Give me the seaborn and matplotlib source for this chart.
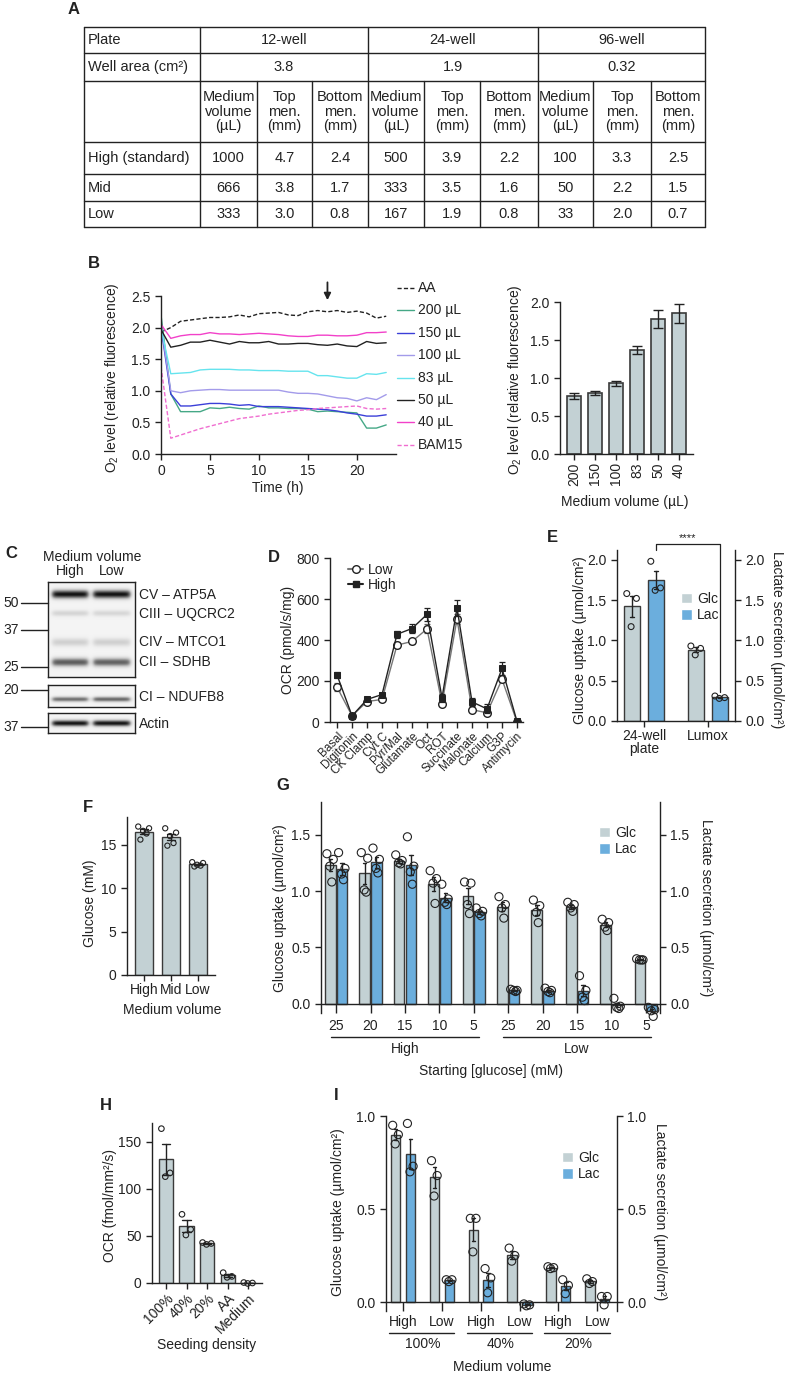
import numpy as np
import pandas as pd
import matplotlib
matplotlib.use("Agg")
import matplotlib.pyplot as plt
import matplotlib.transforms as mtransforms
from matplotlib.lines import Line2D
from matplotlib.patches import Patch
import seaborn as sns

# ── Data ───────────────────────────────────────────────────────────────────────

# A: plate table
plates = ["12-well", "24-well", "96-well"]
well_area = ["3.8", "1.9", "0.32"]
sub_headers = ["Medium\nvolume\n(µL)", "Top\nmen.\n(mm)", "Bottom\nmen.\n(mm)"]
row_names = ["High (standard)", "Mid", "Low"]
row_high = ["1000", "4.7", "2.4", "500", "3.9", "2.2", "100", "3.3", "2.5"]
row_mid = ["666", "3.8", "1.7", "333", "3.5", "1.6", "50", "2.2", "1.5"]
row_low = ["333", "3.0", "0.8", "167", "1.9", "0.8", "33", "2.0", "0.7"]

# B (left): O2 traces, hourly
time_h = list(range(24))
b_conditions = ["AA", "200 µL", "150 µL", "100 µL", "83 µL", "50 µL", "40 µL", "BAM15"]
o2_aa = [1.93, 2.00, 2.10, 2.12, 2.14, 2.16, 2.16, 2.17, 2.20, 2.17, 2.22, 2.23,
         2.24, 2.20, 2.19, 2.25, 2.27, 2.25, 2.27, 2.24, 2.26, 2.23, 2.15, 2.18]
o2_200 = [2.20, 0.95, 0.67, 0.67, 0.67, 0.73, 0.72, 0.74, 0.72, 0.71, 0.76, 0.73,
          0.73, 0.72, 0.72, 0.71, 0.67, 0.68, 0.67, 0.66, 0.65, 0.41, 0.41, 0.46]
o2_150 = [2.00, 0.95, 0.76, 0.76, 0.78, 0.80, 0.80, 0.79, 0.77, 0.78, 0.75, 0.75,
          0.75, 0.74, 0.73, 0.72, 0.71, 0.70, 0.68, 0.65, 0.63, 0.60, 0.60, 0.62]
o2_100 = [2.05, 1.00, 0.97, 1.00, 1.01, 1.02, 1.02, 1.01, 1.01, 1.01, 1.01, 1.01,
          1.01, 0.98, 0.96, 0.96, 0.95, 0.92, 0.89, 0.88, 0.84, 0.89, 0.86, 0.94]
o2_83 = [2.00, 1.27, 1.28, 1.29, 1.33, 1.34, 1.34, 1.34, 1.33, 1.33, 1.32, 1.32,
         1.32, 1.31, 1.31, 1.31, 1.24, 1.24, 1.22, 1.20, 1.20, 1.27, 1.26, 1.29]
o2_50 = [1.97, 1.69, 1.72, 1.77, 1.77, 1.80, 1.77, 1.74, 1.78, 1.76, 1.76, 1.78,
         1.74, 1.74, 1.75, 1.75, 1.73, 1.72, 1.74, 1.71, 1.70, 1.78, 1.75, 1.76]
o2_40 = [2.05, 1.83, 1.87, 1.89, 1.89, 1.92, 1.90, 1.90, 1.89, 1.90, 1.91, 1.90,
         1.89, 1.87, 1.86, 1.86, 1.88, 1.88, 1.87, 1.87, 1.88, 1.92, 1.92, 1.93]
o2_bam15 = [1.38, 0.25, 0.30, 0.35, 0.40, 0.44, 0.48, 0.52, 0.56, 0.58, 0.60, 0.63,
            0.65, 0.67, 0.69, 0.70, 0.72, 0.73, 0.74, 0.75, 0.76, 0.72, 0.71, 0.72]
arrow_time = 17

# B (right): O2 level at medium volume
vol_labels = ["200", "150", "100", "83", "50", "40"]
o2_mean = [0.76, 0.80, 0.93, 1.37, 1.78, 1.85]
o2_err = [0.04, 0.03, 0.03, 0.05, 0.12, 0.13]

# C: western blot
blot_bands = ["CV – ATP5A", "CIII – UQCRC2", "CIV – MTCO1", "CII – SDHB", "CI – NDUFB8", "Actin"]
blot_high = [0.85, 0.18, 0.20, 0.62, 0.55, 0.85]
blot_low = [0.85, 0.17, 0.20, 0.60, 0.58, 0.85]
marker_kda = ["50", "37", "25", "20", "37"]

# D: OCR steps
ocr_steps = ["Basal", "Digitonin", "CK Clamp", "Cyt C", "Pyr/Mal", "Glutamate", "Oct",
             "ROT", "Succinate", "Malonate", "Calcium", "G3P", "Antimycin"]
ocr_low = [170, 30, 100, 110, 375, 393, 454, 90, 502, 60, 45, 208, 0]
ocr_low_err = [20, 5, 8, 8, 15, 12, 22, 10, 25, 8, 8, 15, 2]
ocr_high = [229, 30, 110, 134, 428, 456, 525, 118, 556, 98, 64, 261, 3]
ocr_high_err = [15, 5, 8, 8, 18, 20, 32, 20, 37, 20, 22, 30, 2]

# E: 24-well vs Lumox
e_sites = ["24-well\nplate", "Lumox"]
e_glc = [[1.58, 1.52, 1.17], [0.93, 0.90, 0.82]]
e_lac = [[1.98, 1.65, 1.62], [0.31, 0.29, 0.28]]

# F: glucose after culture
f_volume = ["High", "Mid", "Low"]
f_glucose = [[17.1, 16.9, 16.6, 16.3, 15.6], [16.9, 16.4, 16.0, 15.2, 14.9],
             [13.0, 12.9, 12.7, 12.6, 12.5]]

# G: starting glucose x medium volume
g_levels = ["High", "Low"]
g_conc = ["25", "20", "15", "10", "5"]
g_glc = [[1.33, 1.28, 1.22, 1.08], [1.34, 1.29, 1.01, 0.99], [1.32, 1.27, 1.25, 1.24],
         [1.18, 1.11, 1.07, 0.89], [1.08, 1.07, 0.88, 0.80],
         [0.95, 0.88, 0.85, 0.76], [0.92, 0.87, 0.81, 0.72], [0.90, 0.88, 0.85, 0.82],
         [0.75, 0.72, 0.68, 0.65], [0.40, 0.39, 0.39, 0.39]]
g_lac = [[1.34, 1.20, 1.15, 1.10], [1.38, 1.28, 1.20, 1.16], [1.48, 1.22, 1.17, 1.06],
         [1.06, 0.93, 0.90, 0.88], [0.85, 0.82, 0.80, 0.78],
         [0.13, 0.12, 0.12, 0.11], [0.14, 0.12, 0.11, 0.10], [0.25, 0.12, 0.06, 0.03],
         [0.05, -0.02, -0.03, -0.04], [-0.03, -0.05, -0.06, -0.11]]

# H: OCR by seeding density
h_density = ["100%", "40%", "20%", "AA", "Medium"]
h_ocr = [[164, 117, 113], [73, 57, 51], [43, 42, 41], [11, 7, 6], [0.5, 0.0, -0.5]]

# I: seeding density x medium volume
i_density = ["100%", "40%", "20%"]
i_volume = ["High", "Low"]
i_glc = [[0.95, 0.90, 0.85], [0.76, 0.68, 0.57], [0.45, 0.45, 0.27],
         [0.29, 0.25, 0.22], [0.19, 0.185, 0.18], [0.125, 0.11, 0.10]]
i_lac = [[0.96, 0.73, 0.70], [0.12, 0.12, 0.11], [0.18, 0.13, 0.05],
         [-0.01, -0.015, -0.02], [0.12, 0.09, 0.045], [0.03, 0.03, -0.015]]

# ── Style ──────────────────────────────────────────────────────────────────────

INK = "#222222"
GLC = "#C3D1D4"
LAC = "#6BAEDD"
EDGE = "#3a3a3a"
B_COLORS = {"AA": INK, "200 µL": "#45A886", "150 µL": "#3B3FD8", "100 µL": "#A39BEA",
            "83 µL": "#66E4EE", "50 µL": INK, "40 µL": "#F241C9", "BAM15": "#F06DD0"}
B_DASHES = {c: "" for c in b_conditions}
B_DASHES["AA"] = (3, 1.6)
B_DASHES["BAM15"] = (3, 1.6)
JIT = np.array([-0.32, 0.28, -0.05, 0.14, -0.2])

sns.set_style("ticks")
plt.rcParams.update({
    "font.size": 10,
    "axes.labelsize": 10,
    "xtick.labelsize": 10,
    "ytick.labelsize": 10,
    "axes.linewidth": 1.0,
    "axes.edgecolor": INK,
    "axes.labelcolor": INK,
    "text.color": INK,
    "xtick.color": INK,
    "ytick.color": INK,
    "xtick.major.size": 4,
    "ytick.major.size": 4,
    "xtick.major.width": 1,
    "ytick.major.width": 1,
    "mathtext.fontset": "custom",
    "mathtext.rm": "Liberation Sans",
    "mathtext.it": "Liberation Sans:italic",
})
plt.rcParams["font.family"] = ["Liberation Sans", "DejaVu Sans"]

W, H = 785, 1374
fig = plt.figure(figsize=(W / 100, H / 100), dpi=100)

# pixel overlay for table, labels and annotations
ov = fig.add_axes([0, 0, 1, 1])
ov.set_xlim(0, W)
ov.set_ylim(H, 0)
ov.axis("off")
ov.set_zorder(10)


def px_axes(l, t, r, b):
    ax = fig.add_axes([l / W, 1 - b / H, (r - l) / W, (b - t) / H])
    ax.px = (l, t, r, b)
    ax.patch.set_alpha(0)
    ax.spines[["top", "right"]].set_visible(False)
    return ax


def twin(ax):
    axr = ax.twinx()
    axr.px = ax.px
    axr.set_ylim(ax.get_ylim())
    axr.spines[["top", "left", "bottom"]].set_visible(False)
    axr.spines["right"].set_visible(True)
    return axr


def ylab(ax, text, xc, yc, rot=90):
    l, t, r, b = ax.px
    ax.set_ylabel(text, rotation=rot, va="center", ha="center")
    ax.yaxis.set_label_coords((xc - l) / (r - l), (b - yc) / (b - t))


def xlab(ax, text, xc, yc):
    l, t, r, b = ax.px
    ax.set_xlabel(text, va="center", ha="center")
    ax.xaxis.set_label_coords((xc - l) / (r - l), (b - yc) / (b - t))


def single_bars(ax, cats, pts, width, capsize, s):
    df = pd.DataFrame({"cat": np.repeat(cats, [len(p) for p in pts]),
                       "val": np.concatenate(pts)})
    sns.barplot(data=df, x="cat", y="val", order=cats, color=GLC, saturation=1,
                width=width, errorbar="se", capsize=capsize,
                err_kws={"color": INK, "linewidth": 1}, edgecolor=EDGE, linewidth=1, ax=ax)
    for i, p in enumerate(pts):
        ax.scatter(i + JIT[:len(p)] * width, p, s=s, facecolor="none", edgecolor=INK,
                   linewidth=0.8, zorder=4, clip_on=False)


def paired_bars(ax, cats, glc, lac, width, gap, capsize, s):
    rows = []
    for c, g, l in zip(cats, glc, lac):
        rows += [(c, "Glc", v) for v in g] + [(c, "Lac", v) for v in l]
    df = pd.DataFrame(rows, columns=["cat", "met", "val"])
    sns.barplot(data=df, x="cat", y="val", hue="met", order=cats, hue_order=["Glc", "Lac"],
                palette=[GLC, LAC], saturation=1, width=width, gap=gap, errorbar="se",
                capsize=capsize, err_kws={"color": INK, "linewidth": 1},
                edgecolor=EDGE, linewidth=1, legend=False, ax=ax)
    bw = width / 2 * (1 - gap)
    for i, (g, l) in enumerate(zip(glc, lac)):
        for pts, dx in ((g, -width / 4), (l, width / 4)):
            ax.scatter(i + dx + JIT[:len(pts)] * bw, pts, s=s, facecolor="none",
                       edgecolor=INK, linewidth=0.8, zorder=4, clip_on=False)


def met_legend(ax, x, y):
    l, t, r, b = ax.px
    ax.legend(handles=[Patch(facecolor=GLC), Patch(facecolor=LAC)], labels=["Glc", "Lac"],
              loc="upper left", bbox_to_anchor=((x - l) / (r - l), (b - y) / (b - t)),
              frameon=False, borderpad=0, handlelength=0.8, handleheight=0.8,
              handletextpad=0.35, labelspacing=0.15)


# panel letters
for lab, (x, y) in {"A": (68, 9), "B": (88, 263), "C": (5, 553), "D": (268, 558),
                    "E": (547, 538), "F": (83, 808), "G": (276, 786), "H": (100, 1105),
                    "I": (334, 1095)}.items():
    ov.text(x, y, lab, fontsize=12, fontweight="bold", ha="left", va="center")

# ── A: table ───────────────────────────────────────────────────────────────────

col_x = [84, 200, 257, 312, 368, 424, 480, 538, 593, 651, 705]
row_y = [27, 53, 81, 142, 174, 201, 227]
for y in row_y:
    ov.plot([col_x[0], col_x[-1]], [y, y], color=INK, lw=1)
for j, x in enumerate(col_x):
    top = row_y[0] if j in (0, 1, 4, 7, 10) else row_y[2]
    ov.plot([x, x], [top, row_y[-1]], color=INK, lw=1)

TFS = 10.5


def cell(x0, x1, y0, y1, s, left=False):
    if left:
        ov.text(x0 + 4, (y0 + y1) / 2, s, ha="left", va="center", fontsize=TFS)
    else:
        ov.text((x0 + x1) / 2, (y0 + y1) / 2, s, ha="center", va="center",
                fontsize=TFS, linespacing=1.05)


cell(col_x[0], col_x[1], row_y[0], row_y[1], "Plate", left=True)
cell(col_x[0], col_x[1], row_y[1], row_y[2], "Well area (cm²)", left=True)
for k in range(3):
    cell(col_x[1 + 3 * k], col_x[4 + 3 * k], row_y[0], row_y[1], plates[k])
    cell(col_x[1 + 3 * k], col_x[4 + 3 * k], row_y[1], row_y[2], well_area[k])
for k in range(9):
    cell(col_x[1 + k], col_x[2 + k], row_y[2], row_y[3], sub_headers[k % 3])
for r, (name, vals) in enumerate(zip(row_names, [row_high, row_mid, row_low])):
    cell(col_x[0], col_x[1], row_y[3 + r], row_y[4 + r], name, left=True)
    for k, v in enumerate(vals):
        cell(col_x[1 + k], col_x[2 + k], row_y[3 + r], row_y[4 + r], v)

# ── B: O2 traces and bars ──────────────────────────────────────────────────────

axb = px_axes(161, 296, 396, 454)
series = [o2_aa, o2_200, o2_150, o2_100, o2_83, o2_50, o2_40, o2_bam15]
df_b = pd.DataFrame({"time": time_h * len(series),
                     "o2": np.concatenate(series),
                     "cond": np.repeat(b_conditions, len(time_h))})
sns.lineplot(data=df_b, x="time", y="o2", hue="cond", style="cond", palette=B_COLORS,
             dashes=B_DASHES, linewidth=1.0, legend=False, errorbar=None, ax=axb)
axb.set_xlim(0, 24)
axb.set_ylim(0, 2.5)
axb.set_xticks([0, 5, 10, 15, 20])
axb.set_yticks(np.arange(0, 2.51, 0.5))
axb.yaxis.set_major_formatter(matplotlib.ticker.FormatStrFormatter("%.1f"))
axb.annotate("", xy=(arrow_time, 2.39), xytext=(arrow_time, 2.76),
             arrowprops=dict(arrowstyle="-|>", color=INK, lw=1.3, mutation_scale=10),
             annotation_clip=False)
ylab(axb, "O$_2$ level (relative fluorescence)", 112, 378)
xlab(axb, "Time (h)", 278, 488)
for i, c in enumerate(b_conditions):
    y = 288 + i * 22.4
    ov.add_line(Line2D([397, 414], [y, y], color=B_COLORS[c], lw=1.0,
                       dashes=B_DASHES[c] if B_DASHES[c] else (None, None)))
    ov.text(418, y, c, ha="left", va="center", fontsize=10)

axb2 = px_axes(560, 302, 693, 454)
sns.barplot(x=vol_labels, y=o2_mean, order=vol_labels, color=GLC, saturation=1, width=0.67,
            edgecolor=EDGE, linewidth=1.2, errorbar=None, ax=axb2)
axb2.errorbar(range(len(vol_labels)), o2_mean, yerr=o2_err, fmt="none", ecolor=INK,
              elinewidth=1, capsize=3.5, capthick=1)
axb2.set_xlim(-0.67, 5.67)
axb2.set_ylim(0, 2.0)
axb2.set_yticks(np.arange(0, 2.01, 0.5))
axb2.yaxis.set_major_formatter(matplotlib.ticker.FormatStrFormatter("%.1f"))
axb2.tick_params(axis="x", rotation=90, pad=2)
ylab(axb2, "O$_2$ level (relative fluorescence)", 515, 380)
xlab(axb2, "Medium volume (µL)", 625, 502)

# ── C: western blot ────────────────────────────────────────────────────────────

boxes = [(48, 582, 135, 677), (48, 685, 135, 707), (48, 713, 135, 733)]
band_box = [0, 0, 0, 0, 1, 2]
band_y = [594, 613, 642, 662, 699, 723]
band_sig = [3.0, 2.2, 3.0, 3.0, 1.8, 2.2]
lanes = [(52, 88), (93, 130)]
for bi, (l, t, r, b) in enumerate(boxes):
    axc = px_axes(l, t, r, b)
    yy, xx = np.mgrid[t:b:0.5, l:r:0.5]
    img = np.full(yy.shape, 0.09)
    for k in range(len(blot_bands)):
        if band_box[k] != bi:
            continue
        prof = np.exp(-0.5 * ((yy - band_y[k]) / band_sig[k]) ** 2)
        for (a, z), inten in zip(lanes, (blot_high[k], blot_low[k])):
            mask = 1 / (1 + np.exp(-(xx - a) / 1.3)) / (1 + np.exp(-(z - xx) / 1.3))
            img += inten * prof * mask
    axc.imshow(np.clip(img, 0, 1), cmap="Greys", vmin=0, vmax=1, aspect="auto",
               extent=(l, r, b, t), interpolation="bilinear")
    axc.set_xlim(l, r)
    axc.set_ylim(b, t)
    axc.set_xticks([])
    axc.set_yticks([])
    for s in axc.spines.values():
        s.set_visible(True)
        s.set_color(INK)
        s.set_linewidth(1)
for kda, y in zip(marker_kda, [603, 630, 667, 690, 727]):
    ov.plot([21, 48], [y, y], color=INK, lw=1)
    ov.text(19, y, kda, ha="right", va="center", fontsize=10)
for name, y in zip(blot_bands, [595, 614, 642, 662, 697, 724]):
    ov.text(139, y, name, ha="left", va="center", fontsize=10)
ov.text(92, 557, "Medium volume", ha="center", va="center", fontsize=10)
ov.text(70, 571, "High", ha="center", va="center", fontsize=10)
ov.text(112, 571, "Low", ha="center", va="center", fontsize=10)

# ── D: OCR ─────────────────────────────────────────────────────────────────────

axd = px_axes(330, 558, 523, 722)
x_idx = np.arange(len(ocr_steps))
axd.errorbar(x_idx, ocr_low, yerr=ocr_low_err, fmt="none", ecolor="#666666",
             elinewidth=0.9, capsize=2.5, capthick=0.9, zorder=2)
sns.lineplot(x=x_idx, y=ocr_low, color="#777777", linewidth=1, marker="o", markersize=5.5,
             markerfacecolor="white", markeredgecolor=INK, markeredgewidth=1, ax=axd, zorder=3)
axd.errorbar(x_idx, ocr_high, yerr=ocr_high_err, fmt="none", ecolor=INK,
             elinewidth=0.9, capsize=2.5, capthick=0.9, zorder=4)
sns.lineplot(x=x_idx, y=ocr_high, color=INK, linewidth=1, marker="s", markersize=5,
             markerfacecolor=INK, markeredgecolor=INK, ax=axd, zorder=5)
axd.set_xlim(-0.47, 12.4)
axd.set_ylim(0, 800)
axd.set_yticks(range(0, 801, 200))
axd.set_xticks(x_idx)
axd.set_xticklabels(ocr_steps, rotation=45, ha="right", rotation_mode="anchor", fontsize=8.5)
axd.tick_params(axis="x", pad=2)
ylab(axd, "OCR (pmol/s/mg)", 288, 640)
axd.legend(handles=[Line2D([], [], color="#777777", marker="o", mfc="white", mec=INK, ms=5.5),
                    Line2D([], [], color=INK, marker="s", mfc=INK, mec=INK, ms=5)],
           labels=["Low", "High"], loc="upper left",
           bbox_to_anchor=((341 - 330) / 193, (722 - 556) / 164), frameon=False,
           borderpad=0, handlelength=1.1, handletextpad=0.3, labelspacing=0.1)

# ── E: glucose uptake / lactate secretion ─────────────────────────────────────

axe = px_axes(617, 550, 735, 721)
paired_bars(axe, e_sites, e_glc, e_lac, width=0.75, gap=0.33, capsize=0.13, s=18)
axe.set_xlim(-0.42, 1.42)
axe.set_ylim(0, 2.12)
axe.set_yticks(np.arange(0, 2.01, 0.5))
axe.yaxis.set_major_formatter(matplotlib.ticker.FormatStrFormatter("%.1f"))
axe.set_xticks([0, 1])
axe.set_xticklabels(e_sites, linespacing=0.9)
axe.tick_params(axis="x", pad=2)
axe.set_xlabel("")
ylab(axe, "Glucose uptake (µmol/cm²)", 580, 640)
axe_r = twin(axe)
axe_r.set_yticks(np.arange(0, 2.01, 0.5))
axe_r.yaxis.set_major_formatter(matplotlib.ticker.FormatStrFormatter("%.1f"))
ylab(axe_r, "Lactate secretion (µmol/cm²)", 777, 640, rot=270)
met_legend(axe, 674, 585)
x_l, x_r = 0.75 / 4, 1 + 0.75 / 4
axe.plot([x_l, x_l, x_r, x_r], [2.12, 2.2, 2.2, 0.36], color=INK, lw=0.9, clip_on=False)
axe.text((x_l + x_r) / 2, 2.21, "****", ha="center", va="bottom", fontsize=8)

# ── F: glucose concentration ──────────────────────────────────────────────────

axf = px_axes(127, 817, 215, 975)
single_bars(axf, f_volume, f_glucose, width=0.67, capsize=0.3, s=14)
axf.set_xlim(-0.63, 2.63)
axf.set_ylim(0, 18.2)
axf.set_yticks([0, 5, 10, 15])
axf.tick_params(axis="x", pad=2)
ylab(axf, "Glucose (mM)", 90, 903)
xlab(axf, "Medium volume", 172, 1010)

# ── G: starting glucose ───────────────────────────────────────────────────────

axg = px_axes(321, 802, 660, 1013)
g_cats = [f"{lvl} {c}" for lvl in g_levels for c in g_conc]
paired_bars(axg, g_cats, g_glc, g_lac, width=0.68, gap=0.09, capsize=0.2, s=34)
axg.set_xlim(-0.44, 9.41)
axg.set_ylim(-0.08, 1.788)
axg.spines["bottom"].set_position(("data", 0))
axg.set_yticks([0, 0.5, 1.0, 1.5])
axg.yaxis.set_major_formatter(matplotlib.ticker.FormatStrFormatter("%.1f"))
axg.set_xticks(range(len(g_cats)))
axg.set_xticklabels(g_conc * len(g_levels))
axg.tick_params(axis="x", length=6.5, pad=4)
axg.set_xlabel("")
ylab(axg, "Glucose uptake (µmol/cm²)", 280, 908)
axg_r = twin(axg)
axg_r.set_yticks([0, 0.5, 1.0, 1.5])
axg_r.yaxis.set_major_formatter(matplotlib.ticker.FormatStrFormatter("%.1f"))
ylab(axg_r, "Lactate secretion (µmol/cm²)", 706, 908, rot=270)
met_legend(axg, 592, 819)
blend_g = mtransforms.blended_transform_factory(axg.transData, ov.transData)
for k, lvl in enumerate(g_levels):
    a, z = 5 * k, 5 * k + 4
    ov.plot([a - 0.15, z + 0.15], [1037, 1037], color=INK, lw=1, transform=blend_g)
    ov.text((a + z) / 2, 1049, lvl, ha="center", va="center", fontsize=10, transform=blend_g)
ov.text(491, 1071, "Starting [glucose] (mM)", ha="center", va="center", fontsize=10)

# ── H: OCR by seeding density ─────────────────────────────────────────────────

axh = px_axes(152, 1123, 262, 1283)
single_bars(axh, h_density, h_ocr, width=0.7, capsize=0.4, s=16)
axh.set_xlim(-0.68, 4.66)
axh.set_ylim(0, 170)
axh.set_yticks([0, 50, 100, 150])
axh.set_xticklabels(h_density, rotation=45, ha="right", rotation_mode="anchor")
axh.tick_params(axis="x", pad=2)
ylab(axh, "OCR (fmol/mm²/s)", 110, 1205)
xlab(axh, "Seeding density", 207, 1345)

# ── I: seeding density x medium volume ────────────────────────────────────────

axi = px_axes(386, 1116, 617, 1311)
i_cats = [f"{d} {v}" for d in i_density for v in i_volume]
paired_bars(axi, i_cats, i_glc, i_lac, width=0.76, gap=0.36, capsize=0.18, s=34)
axi.set_xlim(-0.44, 5.51)
axi.set_ylim(-0.048, 1.0)
axi.spines["bottom"].set_position(("data", 0))
axi.set_yticks([0, 0.5, 1.0])
axi.yaxis.set_major_formatter(matplotlib.ticker.FormatStrFormatter("%.1f"))
axi.set_xticks(range(len(i_cats)))
axi.set_xticklabels(i_volume * len(i_density))
axi.tick_params(axis="x", length=6.5, pad=3)
axi.set_xlabel("")
ylab(axi, "Glucose uptake (µmol/cm²)", 338, 1212)
axi_r = twin(axi)
axi_r.set_yticks([0, 0.5, 1.0])
axi_r.yaxis.set_major_formatter(matplotlib.ticker.FormatStrFormatter("%.1f"))
ylab(axi_r, "Lactate secretion (µmol/cm²)", 660, 1212, rot=270)
met_legend(axi, 555, 1144)
blend_i = mtransforms.blended_transform_factory(axi.transData, ov.transData)
for k, d in enumerate(i_density):
    a, z = 2 * k, 2 * k + 1
    ov.plot([a - 0.36, z + 0.32], [1333, 1333], color=INK, lw=1, transform=blend_i)
    ov.text((a + z) / 2, 1344, d, ha="center", va="center", fontsize=10, transform=blend_i)
ov.text(502, 1367, "Medium volume", ha="center", va="center", fontsize=10)

fig.savefig("out.png", dpi=100)
